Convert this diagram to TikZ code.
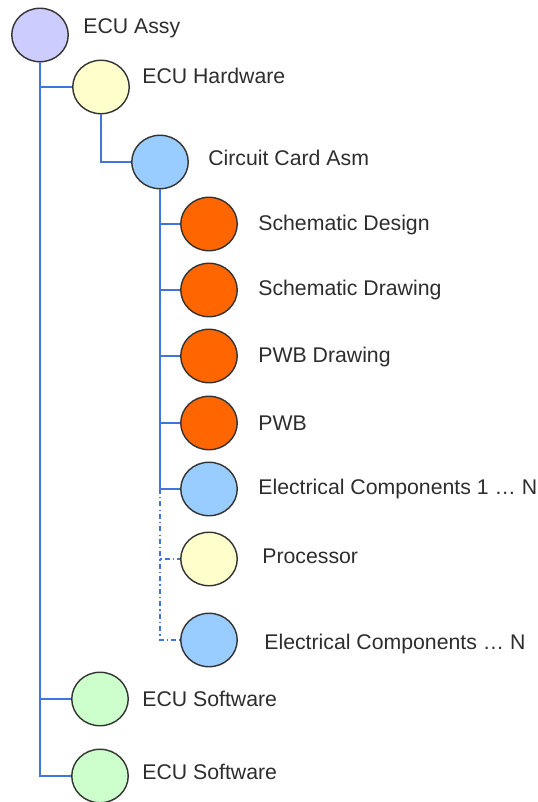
\documentclass[tikz,border=0pt]{standalone}
\usepackage{fontspec}
\setmainfont{Liberation Sans}
\usepackage{xcolor}
\usepackage{tikz}
\usetikzlibrary{shapes.geometric}

\definecolor{linkblue}{RGB}{64,116,222}
\definecolor{txtgray}{RGB}{45,45,45}
\definecolor{lavender}{RGB}{204,204,255}
\definecolor{paleyellow}{RGB}{255,255,204}
\definecolor{skyblue}{RGB}{153,204,255}
\definecolor{hotorange}{RGB}{255,102,0}
\definecolor{palegreen}{RGB}{204,255,204}

\begin{document}
\begin{tikzpicture}[
  x=0.02cm, y=-0.02cm,
  every node/.style={font=\fontsize{12.1}{14}\selectfont},
  ball/.style={draw=black!80, ellipse, line width=0.8pt, minimum width=1.13cm, minimum height=1.07cm, inner sep=0pt},
  lbl/.style={anchor=west, inner sep=0pt, text=txtgray, text height=8.7pt, text depth=0pt},
  link/.style={draw=linkblue, line width=1.3pt},
  dlink/.style={draw=linkblue, line width=1pt, dash pattern=on 2.8pt off 1.8pt on 0.7pt off 1.8pt}
]
\useasboundingbox (0,0) rectangle (538,802);

\node[ball, fill=lavender] (assy) at (40,35) {};
\node[ball, fill=paleyellow] (hw) at (101,87) {};
\node[ball, fill=skyblue] (cca) at (160,162) {};
\node[ball, fill=hotorange] (sd) at (209,224) {};
\node[ball, fill=hotorange] (sdw) at (209,290) {};
\node[ball, fill=hotorange] (pwbd) at (209,356) {};
\node[ball, fill=hotorange] (pwb) at (209,423) {};
\node[ball, fill=skyblue] (ec1) at (209,489) {};
\node[ball, fill=paleyellow] (proc) at (209,559) {};
\node[ball, fill=skyblue] (ecn) at (209,640) {};
\node[ball, fill=palegreen] (sw1) at (100,699) {};
\node[ball, fill=palegreen] (sw2) at (100,776) {};

\node[lbl] (assylbl) at (83,26) {ECU Assy};
\node[lbl] (hwlbl) at (142,76) {ECU Hardware};
\node[lbl] (ccalbl) at (208,158) {Circuit Card Asm};
\node[lbl] (sdlbl) at (258,223) {Schematic Design};
\node[lbl] (sdwlbl) at (258,288) {Schematic Drawing};
\node[lbl] (pwbdlbl) at (258,355) {PWB Drawing};
\node[lbl] (pwblbl) at (258,423) {PWB};
\node[lbl] (ec1lbl) at (258,487) {Electrical Components 1 … N};
\node[lbl] (proclbl) at (262,556) {Processor};
\node[lbl] (ecnlbl) at (264,642) {Electrical Components … N};
\node[lbl] (sw1lbl) at (142,699) {ECU Software};
\node[lbl] (sw2lbl) at (142,772) {ECU Software};

\draw[link] (assy.south) |- (hw.west);
\draw[link] (assy.south) |- (sw1.west);
\draw[link] (assy.south) |- (sw2.west);
\draw[link] (hw.south) |- (cca.west);
\draw[link] (cca.south) |- (sd.west);
\draw[link] (cca.south) |- (sdw.west);
\draw[link] (cca.south) |- (pwbd.west);
\draw[link] (cca.south) |- (pwb.west);
\draw[link] (cca.south) |- (ec1.west);
\draw[dlink] (cca.south |- ec1.west) |- (proc.west);
\draw[dlink] (cca.south |- ec1.west) |- (ecn.west);
\end{tikzpicture}
\end{document}
